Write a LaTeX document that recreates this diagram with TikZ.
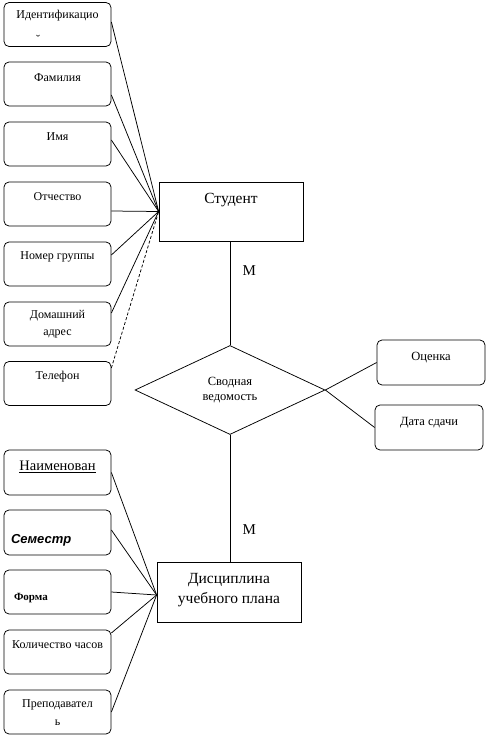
\documentclass[tikz,border=0pt]{standalone}
\usepackage{fontspec}
\setmainfont{Liberation Serif}
\newfontfamily\arialfont{Liberation Sans}
\usetikzlibrary{shapes.geometric,positioning}
\newcommand\attrfont{\fontsize{12}{17}\selectfont}
\newcommand\entfont{\fontsize{15.5}{20}\selectfont}
\tikzset{
  attr/.style={draw,rounded corners=5pt,minimum width=107pt,minimum height=44pt,inner sep=0pt},
  ent/.style={draw,minimum width=144pt,minimum height=59pt,inner sep=0pt},
  rel/.style={draw,diamond,aspect=2.1,minimum width=190pt,minimum height=89pt,inner sep=0pt,align=center,font=\fontsize{12.5}{15}\selectfont},
  ttl/.style={anchor=north,yshift=-10pt,inner sep=0pt,align=center,font=\attrfont},
  card/.style={font=\fontsize{15}{18}\selectfont},
  link/.style={line width=0.75pt},
  optlink/.style={line width=0.75pt,dash pattern=on 3pt off 2pt}
}

\begin{document}
\begin{tikzpicture}[x=1pt,y=-1pt,line width=0.75pt]
\useasboundingbox (0,0) rectangle (489,737);
% student attributes
\node[attr,label={[ttl,yshift=2pt]north:Идентификацио},
  label={[ttl,xshift=-19.5pt,yshift=-23pt]north:˘}] (sId) at (57.5,24.5) {};
\node[attr,label={[ttl,yshift=-2pt]north:Фамилия}] (sSurname) at (57.5,84) {};
\node[attr,label={[ttl,yshift=-1pt]north:Имя}] (sName) at (57.5,144) {};
\node[attr,label={[ttl,yshift=-1pt]north:Отчество}] (sPatr) at (57.5,204) {};
\node[attr,label={[ttl]north:Номер группы}] (sGroup) at (57.5,264) {};
\node[attr,label={[ttl,yshift=2pt]north:Домашний\\адрес}] (sAddr) at (57.5,324) {};
\node[attr,label={[ttl]north:Телефон}] (sPhone) at (57.5,383.5) {};
% entities and relationship
\node[ent,label={[ttl,font=\entfont,yshift=-1pt]north:Студент}] (stud) at (231,211.5) {};
\node[rel] (svod) at (230,390) {Сводная\\ведомость};
\node[ent,minimum height=60pt,label={[ttl,font=\entfont,yshift=-1pt]north:Дисциплина\\учебного плана}] (disc) at (229,592) {};
% relationship attributes
\node[attr,minimum width=108pt,minimum height=45pt,label={[ttl,font=\fontsize{12.5}{15}\selectfont,yshift=-2pt]north:Оценка}] (mark) at (431,362.5) {};
\node[attr,minimum width=108pt,minimum height=45pt,label={[ttl,font=\fontsize{12.5}{15}\selectfont,yshift=-2pt]north:Дата сдачи}] (date) at (429,427.5) {};
% subject attributes
\node[attr,minimum height=45pt,label={[ttl,font=\fontsize{14.5}{17}\selectfont,yshift=-1pt]north:\underline{Наименован}}] (dTitle) at (57.5,472.5) {};
\node[attr,minimum height=45pt,label={[anchor=west,inner sep=0pt,xshift=7pt,yshift=-7.5pt,
  font=\arialfont\bfseries\itshape\fontsize{13}{15}\selectfont]west:Семестр}] (dTerm) at (57.5,532.5) {};
\node[attr,label={[anchor=west,inner sep=0pt,xshift=10pt,yshift=-6pt,
  font=\bfseries\fontsize{11}{13}\selectfont]west:Форма}] (dForm) at (57.5,592) {};
\node[attr,label={[ttl,yshift=-1pt]north:Количество часов}] (dHours) at (57.5,652) {};
\node[attr,label={[ttl,align=center,font=\fontsize{12}{18}\selectfont]north:Преподавател\\ь}] (dTeacher) at (57.5,712) {};

% connectors
\draw[link] ([yshift=2.5pt]sId.east) -- (stud.west);
\draw[link] ([yshift=-11pt]sSurname.east) -- (stud.west);
\draw[link] ([yshift=4pt]sName.east) -- (stud.west);
\draw[link] ([yshift=-7pt]sPatr.east) -- (stud.west);
\draw[link] ([yshift=9pt]sGroup.east) -- (stud.west);
\draw[link] ([yshift=11pt]sAddr.east) -- (stud.west);
\draw[optlink] ([yshift=15.5pt]sPhone.east) -- (stud.west);
\draw[link] (svod.north |- stud.south) -- node[card,pos=0.28,right=9pt]{М} (svod.north);
\draw[link] (svod.south) -- node[card,pos=0.75,right=9pt]{М} (svod.south |- disc.north);
\draw[link] (svod.east) -- (mark.west);
\draw[link] (svod.east) -- (date.west);
\draw[link] (dTitle.east) -- ([yshift=-3pt]disc.west);
\draw[link] ([yshift=2.5pt]dTerm.east) -- ([yshift=-3pt]disc.west);
\draw[link] (dForm.east) -- ([yshift=-3pt]disc.west);
\draw[link] ([yshift=19pt]dHours.east) -- ([yshift=-3pt]disc.west);
\draw[link] (dTeacher.east) -- ([yshift=-3pt]disc.west);
\end{tikzpicture}
\end{document}
